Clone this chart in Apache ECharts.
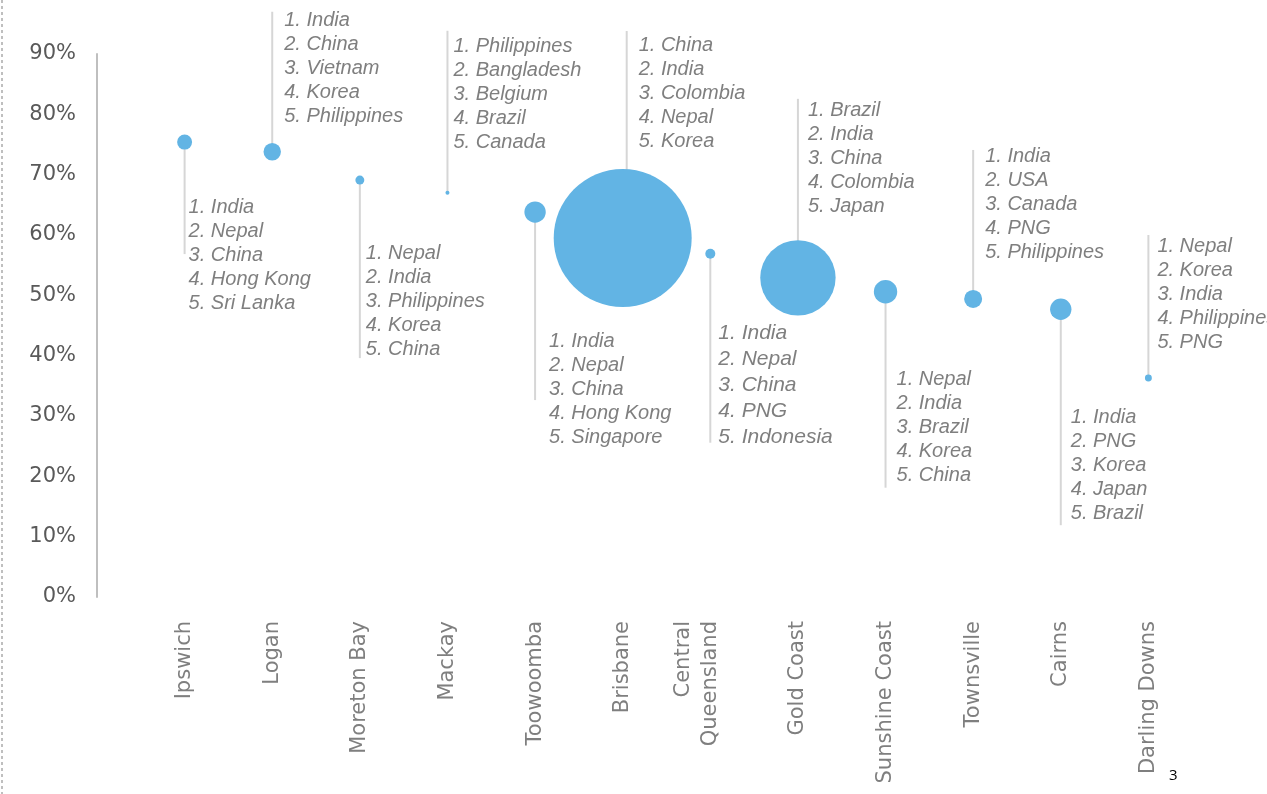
<!DOCTYPE html>
<html>
<head>
<meta charset="utf-8">
<script src="https://cdn.jsdelivr.net/npm/echarts@6/dist/echarts.min.js"></script>
<style>
  html, body { margin: 0; padding: 0; background: #fff; }
  #main { width: 1267px; height: 794px; }
</style>
</head>
<body>
<div id="main"></div>
<script>
// regions along the x axis
var regions = ['Ipswich', 'Logan', 'Moreton Bay', 'Mackay', 'Toowoomba', 'Brisbane',
  'Central\nQueensland', 'Gold Coast', 'Sunshine Coast', 'Townsville', 'Cairns', 'Darling Downs'];

// share (y value) per region
var shareValues = [0.754, 0.738, 0.691, 0.670, 0.638, 0.595, 0.569, 0.529, 0.506, 0.494, 0.477, 0.363];

// bubble size (area) per region
var bubbleSizes = [560, 760, 200, 40, 1140, 47610, 250, 14210, 1370, 810, 1140, 120];

// top 5 source countries per region
var topCountries = [
  ['India', 'Nepal', 'China', 'Hong Kong', 'Sri Lanka'],
  ['India', 'China', 'Vietnam', 'Korea', 'Philippines'],
  ['Nepal', 'India', 'Philippines', 'Korea', 'China'],
  ['Philippines', 'Bangladesh', 'Belgium', 'Brazil', 'Canada'],
  ['India', 'Nepal', 'China', 'Hong Kong', 'Singapore'],
  ['China', 'India', 'Colombia', 'Nepal', 'Korea'],
  ['India', 'Nepal', 'China', 'PNG', 'Indonesia'],
  ['Brazil', 'India', 'China', 'Colombia', 'Japan'],
  ['Nepal', 'India', 'Brazil', 'Korea', 'China'],
  ['India', 'USA', 'Canada', 'PNG', 'Philippines'],
  ['India', 'PNG', 'Korea', 'Japan', 'Brazil'],
  ['Nepal', 'Korea', 'India', 'Philippines', 'PNG']
];

var yTicks = [0, 0.1, 0.2, 0.3, 0.4, 0.5, 0.6, 0.7, 0.8, 0.9];

// label callout placement, pixels from bubble centre
var labelLayout = [
  { lineEnd: 112, textTop: 53, dx: 4 },
  { lineEnd: -140, textTop: -143, dx: 12 },
  { lineEnd: 178, textTop: 61, dx: 6 },
  { lineEnd: -162, textTop: -158, dx: 6 },
  { lineEnd: 188, textTop: 117, dx: 14 },
  { lineEnd: -207, textTop: -205, dx: 16, lineDx: 4 },
  { lineEnd: 189, textTop: 66, dx: 8, size: 21, lh: 26 },
  { lineEnd: -179, textTop: -179, dx: 10 },
  { lineEnd: 196, textTop: 76, dx: 11 },
  { lineEnd: -149, textTop: -155, dx: 12 },
  { lineEnd: 216, textTop: 96, dx: 10 },
  { lineEnd: -143, textTop: -144, dx: 9 }
];

var maxSize = Math.max.apply(null, bubbleSizes);
var maxDiameter = 138;

var points = regions.map(function (r, i) { return [i + 1, shareValues[i]]; });

var myChart = echarts.init(document.getElementById('main'));
var option = {
  animation: false,
  backgroundColor: '#fff',
  grid: { left: 97, right: 31, top: 54, bottom: 197 },
  xAxis: {
    type: 'value',
    min: 0,
    max: 13,
    interval: 1,
    axisLine: { show: false },
    axisTick: { show: false },
    splitLine: { show: false },
    axisLabel: {
      rotate: 90,
      margin: 24,
      fontFamily: 'DejaVu Sans',
      fontSize: 21,
      lineHeight: 27,
      color: '#7f7f7f',
      formatter: function (v) {
        var name = regions[v - 1];
        if (!name) return '';
        // keep the wrapped label centred like the original
        return name.indexOf('\n') >= 0 ? name + '\n ' : name;
      }
    }
  },
  yAxis: {
    type: 'value',
    min: yTicks[0],
    max: yTicks[yTicks.length - 1],
    interval: 0.1,
    axisLine: { show: true, lineStyle: { color: '#bfbfbf', width: 2 } },
    axisTick: { show: false },
    splitLine: { show: false },
    axisLabel: {
      margin: 21,
      padding: [5, 0, 0, 0],
      fontFamily: 'DejaVu Sans',
      fontSize: 21,
      color: '#595959',
      formatter: function (v) { return Math.round(v * 100) + '%'; }
    }
  },
  graphic: [
    {
      type: 'line',
      shape: { x1: 2, y1: 0, x2: 2, y2: 794 },
      style: { stroke: '#bfbfbf', lineWidth: 2, lineDash: [3, 3] }
    },
    {
      type: 'text',
      left: 1169,
      top: 768,
      style: { text: '3', fontFamily: 'Open Sans', fontSize: 15, fill: '#000' }
    }
  ],
  series: [
    {
      type: 'custom',
      z: 2,
      silent: true,
      data: points,
      renderItem: function (params, api) {
        var i = params.dataIndex;
        var p = api.coord([api.value(0), api.value(1)]);
        var L = labelLayout[i];
        var lx = p[0] + (L.lineDx || 0);
        var text = topCountries[i].map(function (c, k) { return (k + 1) + '. ' + c; }).join('\n');
        return {
          type: 'group',
          children: [
            {
              type: 'line',
              shape: { x1: lx, y1: p[1], x2: lx, y2: p[1] + L.lineEnd },
              style: { stroke: '#d6d6d6', lineWidth: 2 }
            },
            {
              type: 'text',
              x: p[0] + L.dx,
              y: p[1] + L.textTop,
              style: {
                text: text,
                fill: '#7f7f7f',
                fontFamily: 'Liberation Sans',
                fontStyle: 'italic',
                fontSize: L.size || 20,
                lineHeight: L.lh || 24,
                verticalAlign: 'top',
                align: 'left'
              }
            }
          ]
        };
      }
    },
    {
      type: 'scatter',
      z: 3,
      data: points,
      symbolSize: function (val, params) {
        return maxDiameter * Math.sqrt(bubbleSizes[params.dataIndex] / maxSize);
      },
      itemStyle: { color: '#62B4E4', opacity: 1 }
    }
  ]
};
if (option && typeof option === 'object') {
  myChart.setOption(option, true);
}
</script>
</body>
</html>
